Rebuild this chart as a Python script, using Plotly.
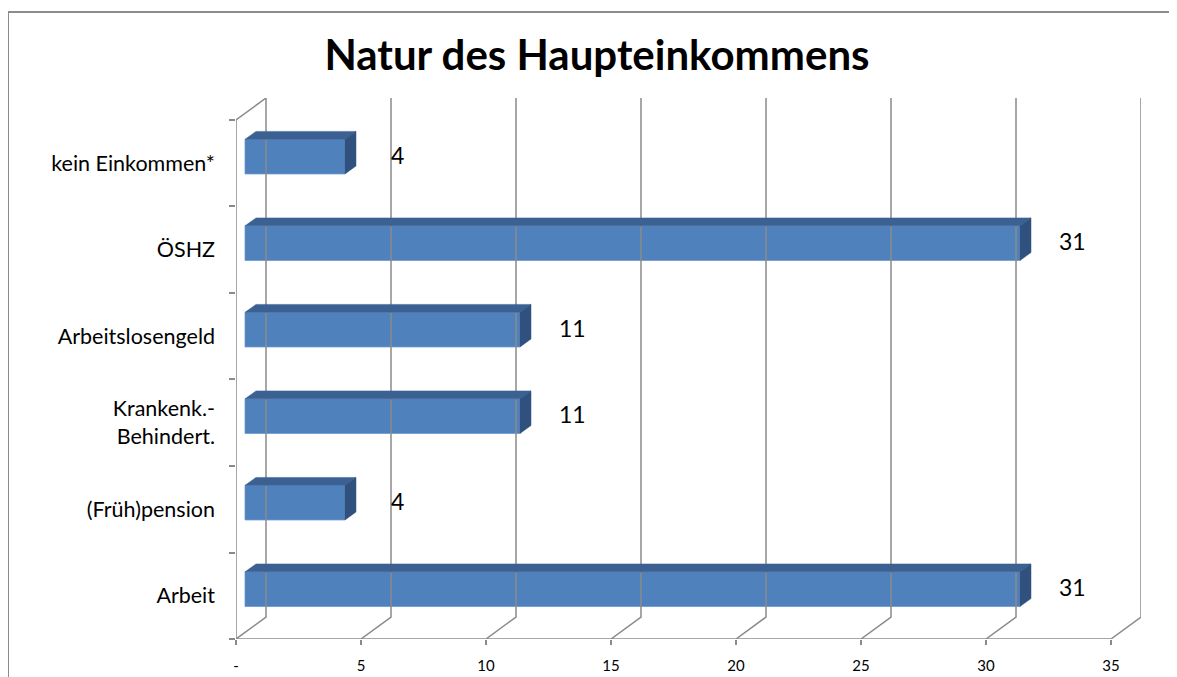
import plotly.graph_objects as go

# ---- data ----
categories = ["Arbeit", "(Früh)pension", "Krankenk.-<br>Behindert.", "Arbeitslosengeld", "ÖSHZ", "kein Einkommen*"]
values = [31, 4, 11, 11, 31, 4]
x_tickvals = [0, 5, 10, 15, 20, 25, 30, 35]
x_ticktext = ["-", "5", "10", "15", "20", "25", "30", "35"]
title_text = "Natur des Haupteinkommens"

# ---- pseudo-3D geometry (data units) ----
XMAX = 35
DX, DY = 1.2, 0.254          # back-wall offset
F_X, F_Y = 0.36, 0.076       # bar front-face offset
B_X, B_Y = 0.44, 0.092       # bar depth
BAR_H = 0.40
GRID = "#8a8a8a"
FONT = "Lato, 'Open Sans', sans-serif"

pos = list(range(len(categories)))
fig = go.Figure()

# gridlines / walls
gx, gy = [], []
for k in x_tickvals:
    gx += [k, k + DX, k + DX, None]
    gy += [-0.5, -0.5 + DY, len(categories) - 0.5 + DY, None]
gx += [0, 0, DX, None]
gy += [-0.5, len(categories) - 0.5, len(categories) - 0.5 + DY, None]
gx += [0, XMAX, None]
gy += [-0.5, -0.5, None]
fig.add_trace(go.Scatter(x=gx, y=gy, mode="lines", line=dict(color=GRID, width=1.5),
                         hoverinfo="skip", showlegend=False))

# top and side faces
for p, v in zip(pos, values):
    x0, x1 = F_X, v + F_X
    yb, yt = p + F_Y - BAR_H / 2, p + F_Y + BAR_H / 2
    fig.add_trace(go.Scatter(
        x=[x0, x1, x1 + B_X, x0 + B_X, x0], y=[yt, yt, yt + B_Y, yt + B_Y, yt],
        fill="toself", fillcolor="#3b6193", mode="lines", line=dict(color="#3b6193", width=0.5),
        hoverinfo="skip", showlegend=False))
    fig.add_trace(go.Scatter(
        x=[x1, x1 + B_X, x1 + B_X, x1, x1], y=[yb, yb + B_Y, yt + B_Y, yt, yb],
        fill="toself", fillcolor="#30517d", mode="lines", line=dict(color="#30517d", width=0.5),
        hoverinfo="skip", showlegend=False))

# front faces
fig.add_trace(go.Bar(
    x=values, y=[p + F_Y for p in pos], base=F_X, orientation="h", width=BAR_H,
    marker=dict(color="#4f81bd", line=dict(color="#6b98cf", width=0.8)),
    hoverinfo="skip", showlegend=False))

# value labels
for p, v in zip(pos, values):
    fig.add_annotation(x=v + F_X + 2.1, y=p + 0.1, text=str(v), showarrow=False,
                       font=dict(family=FONT, size=23, color="#000000"))

# page has an 8px body margin, so figure pixels = reference pixels - 8
OFF = 8
W, H = 1177, 677
L, R, T, B = 236 - OFF, 1141 - OFF, 98 - OFF, 639 - OFF

def px2paper_x(px):
    return (px - OFF - L) / (R - L)

def px2paper_y(py):
    return (B - (py - OFF)) / (B - T)

fig.add_shape(type="rect", xref="paper", yref="paper",
              x0=px2paper_x(8), x1=px2paper_x(1200), y0=px2paper_y(700), y1=px2paper_y(12),
              line=dict(color="#8c8c8c", width=2), fillcolor="rgba(0,0,0,0)", layer="below")

fig.update_layout(
    width=W, height=H,
    margin=dict(l=L, r=W - R, t=T, b=H - B),
    paper_bgcolor="white", plot_bgcolor="white",
    barmode="overlay",
    title=dict(text="<b>" + title_text + "</b>", x=(597 - OFF) / W, xref="container", xanchor="center",
               y=1 - (55 - OFF) / H, yref="container", yanchor="middle",
               font=dict(family=FONT, size=42, color="#000000")),
    xaxis=dict(range=[0, XMAX + DX], tickvals=x_tickvals, ticktext=x_ticktext,
               ticks="outside", ticklen=5, tickcolor=GRID, tickwidth=1.5,
               ticklabelstandoff=8,
               showgrid=False, zeroline=False, showline=False,
               tickfont=dict(family=FONT, size=15, color="#000000")),
    yaxis=dict(range=[-0.5, len(categories) - 0.5 + DY], tickvals=pos, ticktext=categories,
               ticks="", ticklabelstandoff=20,
               minor=dict(tickvals=[p - 0.5 for p in pos] + [len(categories) - 0.5],
                          ticks="outside", ticklen=6, tickcolor=GRID, tickwidth=1.5, showgrid=False),
               showgrid=False, zeroline=False, showline=False,
               tickfont=dict(family=FONT, size=21.5, color="#000000")),
)

fig.write_html("out.html")
